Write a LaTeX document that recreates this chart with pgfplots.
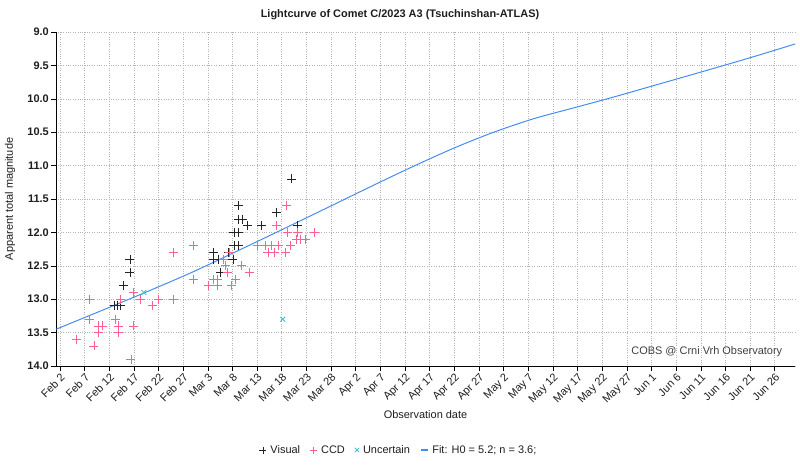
\documentclass[border=0pt]{standalone}
\usepackage{pgfplots}
\pgfplotsset{compat=1.18}
\usepackage{fontspec}
\setmainfont{Liberation Sans}
\definecolor{vis}{RGB}{35,35,35}
\definecolor{ccd}{RGB}{255,95,145}
\definecolor{unc}{RGB}{60,195,205}
\definecolor{fitc}{RGB}{70,140,240}
\definecolor{gridc}{RGB}{180,180,180}
\definecolor{txt}{RGB}{30,30,30}
\begin{document}
\fontsize{11}{13}\selectfont
\begin{tikzpicture}
\begin{axis}[
  name=ax,
  scale only axis,
  width=739bp, height=334bp,
  xmin=-0.8, xmax=149.1,
  ymin=9, ymax=14, y dir=reverse,
  axis x line=bottom, axis y line=left,
  axis line style={-, black, line width=0.9pt},
  xtick={0,5,10,15,20,25,30,35,40,45,50,55,60,65,70,75,80,85,90,95,100,105,110,115,120,125,130,135,140,145},
  xticklabels={Feb 2,Feb 7,Feb 12,Feb 17,Feb 22,Feb 27,Mar 3,Mar 8,Mar 13,Mar 18,Mar 23,Mar 28,Apr 2,Apr 7,Apr 12,Apr 17,Apr 22,Apr 27,May 2,May 7,May 12,May 17,May 22,May 27,Jun 1,Jun 6,Jun 11,Jun 16,Jun 21,Jun 26},
  ytick={9,9.5,10,10.5,11,11.5,12,12.5,13,13.5,14},
  yticklabels={9.0,9.5,10.0,10.5,11.0,11.5,12.0,12.5,13.0,13.5,14.0},
  tick align=outside,
  major tick length=5bp,
  tick style={black, line width=0.6pt},
  grid=major,
  grid style={gridc, dotted, line width=0.6pt},
  xticklabel style={rotate=45, anchor=north east, inner sep=1pt, text=txt, font=\fontsize{11}{13}\selectfont},
  yticklabel style={text=txt, inner sep=2pt, font=\bfseries\fontsize{11}{13}\selectfont},
  legend style={at={(0.464,-0.2515)}, anchor=center, draw=none, fill=none,
    legend columns=4, font=\fontsize{11}{13}\selectfont, text=txt,
    /tikz/every odd column/.append style={column sep=2bp},
    /tikz/every even column/.append style={column sep=8bp},
    legend cell align=left, inner sep=0pt},
  clip=false,
]
\addplot[only marks, mark=+, mark size=4.5bp, vis, line width=0.8pt,
  legend image code/.code={\draw[mark size=3.5bp, mark=+, line width=0.8pt, vis] plot coordinates {(0bp,0bp)};}] coordinates {
(11.0,13.1) (11.6,13.1) (12.2,13.1) (12.9,12.8) (14.2,12.4) (14.2,12.6)
(31.1,12.3) (31.2,12.4) (32.1,12.4) (32.5,12.6) (34.1,12.3) (35.1,12.4)
(35.3,12.0) (35.3,12.2) (36.2,12.2) (36.2,12.0) (36.2,11.8) (37.0,11.8)
(36.2,11.6) (38.0,11.9) (40.9,11.9) (43.9,11.7) (47.0,11.2) (48.1,11.9)
};
\addlegendentry{Visual}
\addplot[only marks, mark=+, mark size=4.5bp, ccd, line width=0.8pt,
  legend image code/.code={\draw[mark size=3.5bp, mark=+, line width=0.8pt, ccd] plot coordinates {(0bp,0bp)};}] coordinates {
(3.4,13.6) (5.9,13.3) (6.0,13.0) (6.9,13.7) (7.8,13.4) (8.7,13.4) (7.8,13.5)
(11.2,13.3) (11.8,13.4) (11.8,13.5) (12.3,13.0) (14.9,12.9) (14.9,13.4) (14.4,13.9)
(16.4,13.0) (18.8,13.1) (20.0,13.0) (23.1,13.0) (23.1,12.3) (27.1,12.2) (27.1,12.7)
(30.1,12.8) (31.2,12.7) (31.9,12.7) (31.9,12.8) (33.1,12.4) (33.5,12.5) (34.0,12.6)
(34.3,12.3) (34.8,12.8) (35.6,12.7) (36.8,12.5) (38.4,12.6) (40.0,12.2) (41.7,12.2)
(42.8,12.2) (44.3,12.2) (42.2,12.3) (43.6,12.3) (45.7,12.3) (46.8,12.2) (44.0,11.9)
(46.0,11.6) (46.1,12.0) (48.2,12.0) (51.7,12.0) (47.9,12.1) (48.8,12.1) (49.8,12.1)
};
\addlegendentry{CCD}
\addplot[only marks, mark=x, mark size=3.5bp, unc, line width=0.8pt,
  legend image code/.code={\draw[mark size=3bp, mark=x, line width=0.8pt, unc] plot coordinates {(0bp,0bp)};}] coordinates {
(17.0,12.9) (45.2,13.3)
};
\addlegendentry{Uncertain}
\addplot[fitc, line width=1pt, smooth, no marks,
  legend image code/.code={\draw[fitc, line width=1.4pt] (-3.5bp,0bp) -- (3.5bp,0bp);}] coordinates {
(-0.8,13.45) (15,12.97) (26.4,12.61) (36.5,12.26) (45,11.96) (54.8,11.61)
(64,11.28) (72,11.00) (80,10.735) (88,10.50) (96,10.30) (104,10.14)
(112,9.98) (121,9.79) (130,9.60) (140,9.385) (149.1,9.18)
};
\addlegendentry{Fit: H0 = 5.2; n = 3.6;}
\end{axis}
\node[font=\bfseries\fontsize{11}{13}\selectfont, text=txt] at ([xshift=344bp,yshift=17bp]ax.north west) {Lightcurve of Comet C/2023 A3 (Tsuchinshan-ATLAS)};
\node[rotate=90, text=txt] at ([xshift=-46bp]ax.west) {Apparent total magnitude};
\node[text=txt] at ([yshift=-49bp]ax.south) {Observation date};
\node[anchor=east, text=txt!85!white] at ([xshift=-9bp,yshift=14.3bp]ax.south east) {COBS @ Crni Vrh Observatory};
\path[use as bounding box] ([xshift=-56bp,yshift=-100bp]ax.south west) rectangle ([xshift=5bp,yshift=32bp]ax.north east);
\end{tikzpicture}
\end{document}
